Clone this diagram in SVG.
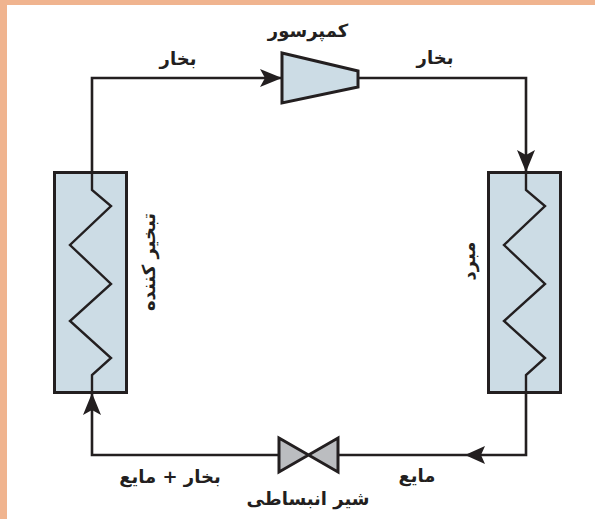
<svg xmlns="http://www.w3.org/2000/svg" width="595" height="519" viewBox="0 0 595 519">
<style>
.box{fill:#ccdce5;stroke:#231f20;stroke-width:3}
.coil{fill:none;stroke:#231f20;stroke-width:2.400;stroke-linejoin:miter}
.pipe{fill:none;stroke:#231f20;stroke-width:2.600}
.head{fill:#231f20}
.valve{fill:#bbbdc0;stroke:#231f20;stroke-width:3}
text{font-family:"DejaVu Sans",sans-serif;font-weight:bold;font-size:18px;fill:#231f20;text-anchor:middle}
</style>
<rect width="595" height="519" fill="#fff"/>
<path d="M0 0H595V5H7V519H0Z" fill="#f0b48f"/>
<g id="connectors">
<path class="pipe" d="M92 190V78H282"/>
<path class="pipe" d="M358 78H526V190"/>
<path class="pipe" d="M526 375V455H338"/>
<path class="pipe" d="M279 455H92V375"/>
<path class="head" d="M282 78L260 69L265 78L260 87Z"/>
<path class="head" d="M526 172L517 150L526 155L535 150Z"/>
<path class="head" d="M465 455L485 446L481 455L485 464Z"/>
<path class="head" d="M92 393L83 415L92 410L101 415Z"/>
</g>
<g id="compressor"><path class="box" d="M282 53L358 71V87L282 103Z"/><text x="308" y="37" direction="rtl">کمپرسور</text></g>
<g id="evaporator"><rect class="box" x="54.500" y="172.500" width="72" height="220"/>
<path class="coil" d="M92 172V190L111 206L70 245L111 284L70 321L111 358L92 375V393"/>
<text transform="translate(155,262) rotate(-90)" direction="rtl">تبخیر کننده</text></g>
<g id="condenser"><rect class="box" x="488.500" y="172.500" width="72" height="220"/>
<path class="coil" d="M526 172V190L545 206L504 245L545 284L504 321L545 358L526 375V393"/>
<text transform="translate(475,261) rotate(-90)" direction="rtl">مبرد</text></g>
<g id="valve"><path class="valve" d="M279 438L338 472V438L279 472Z"/><text x="308" y="505" direction="rtl">شیر انبساطی</text></g>
<g id="labels">
<text x="178" y="65" direction="rtl">بخار</text>
<text x="435" y="64" direction="rtl">بخار</text>
<text x="170" y="483" direction="rtl">بخار + مایع</text>
<text x="417" y="482" direction="rtl">مایع</text>
</g>
</svg>
